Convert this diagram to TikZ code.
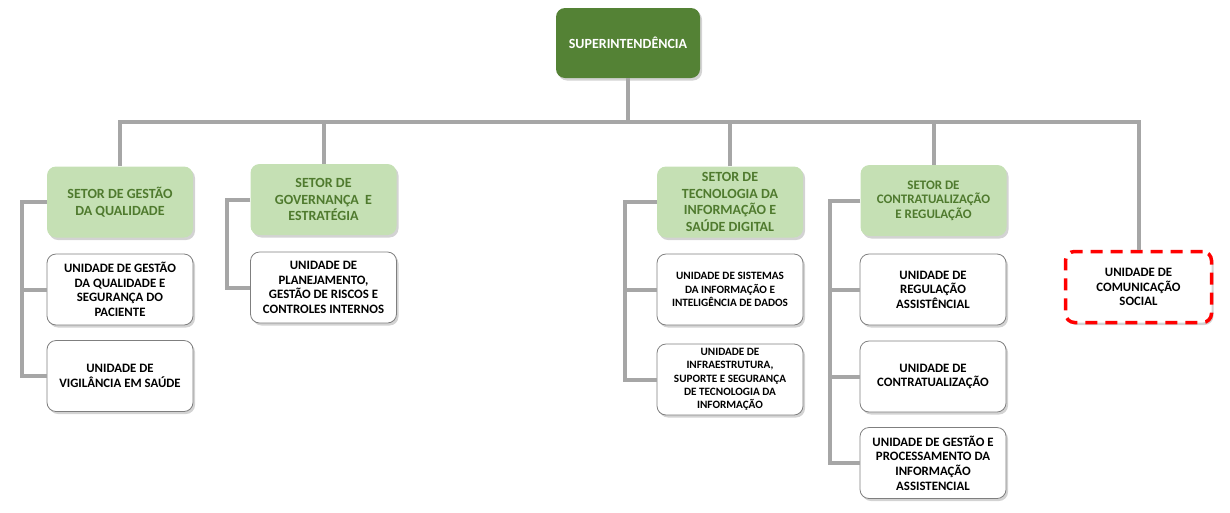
\documentclass[tikz,border=0pt]{standalone}
\usepackage{fontspec}
\setmainfont{Carlito}
\usetikzlibrary{shadows}

\definecolor{supgreen}{HTML}{548235}
\definecolor{setorfill}{HTML}{C5E0B4}
\definecolor{setortext}{HTML}{4F7A2E}
\definecolor{linkgray}{HTML}{A6A6A6}
\definecolor{unitborder}{HTML}{7F7F7F}

\tikzset{
	box/.style={rounded corners=9pt, minimum width=146pt, minimum height=71pt, align=center, inner sep=2pt,
		drop shadow={shadow xshift=2pt, shadow yshift=-2.5pt, opacity=0.35}},
	supbox/.style={box, minimum width=144pt, minimum height=70pt, fill=supgreen, text=white, font=\bfseries\fontsize{14}{16}\selectfont},
	setorbox/.style={box, fill=setorfill, text=setortext, font=\bfseries\fontsize{14}{16.5}\selectfont},
	unitbox/.style={box, fill=white, draw=unitborder, line width=0.8pt, font=\bfseries\fontsize{12.8}{14.6}\selectfont},
	smallunit/.style={unitbox, font=\bfseries\fontsize{11.2}{13.3}\selectfont},
	link/.style={draw=linkgray, line width=4pt},
}

\begin{document}
\begin{tikzpicture}[x=1pt, y=-1pt]
	\useasboundingbox (0,0) rectangle (1230,512);

	% --- top ---
	\node[supbox] (sup) at (628,43) {SUPERINTENDÊNCIA};

	% --- setores ---
	\node[setorbox] (gq) at (120,202)     {SETOR DE GESTÃO\\DA QUALIDADE};
	\node[setorbox] (ge) at (323.5,199.5) {SETOR DE\\GOVERNANÇA~~E\\ESTRATÉGIA};
	\node[setorbox] (ti) at (730,202)     {SETOR DE\\TECNOLOGIA DA\\INFORMAÇÃO E\\SAÚDE DIGITAL};
	\node[setorbox, font=\bfseries\fontsize{13}{14.5}\selectfont] (cr) at (933.5,200.5) {SETOR DE\\CONTRATUALIZAÇÃO\\E REGULAÇÃO};

	% --- unidades ---
	\node[unitbox] (uq1) at (120,289.5)   {UNIDADE DE GESTÃO\\DA QUALIDADE E\\SEGURANÇA DO\\PACIENTE};
	\node[unitbox] (uq2) at (120,376)     {UNIDADE DE\\VIGILÂNCIA EM SAÚDE};
	\node[unitbox] (ug1) at (323.5,287.5) {UNIDADE DE\\PLANEJAMENTO,\\GESTÃO DE RISCOS E\\CONTROLES INTERNOS};
	\node[smallunit] (ut1) at (730,289.5) {UNIDADE DE SISTEMAS\\DA INFORMAÇÃO E\\INTELIGÊNCIA DE DADOS};
	\node[smallunit] (ut2) at (730,379.5) {UNIDADE DE\\INFRAESTRUTURA,\\SUPORTE E SEGURANÇA\\DE TECNOLOGIA DA\\INFORMAÇÃO};
	\node[unitbox] (ur1) at (933,289.5)   {UNIDADE DE\\REGULAÇÃO\\ASSISTÊNCIAL};
	\node[unitbox] (ur2) at (933,376.5)   {UNIDADE DE\\CONTRATUALIZAÇÃO};
	\node[unitbox] (ur3) at (933,463)     {UNIDADE DE GESTÃO E\\PROCESSAMENTO DA\\INFORMAÇÃO\\ASSISTENCIAL};
	\node[unitbox, draw=red, line width=3.5pt, dash pattern=on 12pt off 8pt] (ucs) at (1138.5,287) {UNIDADE DE\\COMUNICAÇÃO\\SOCIAL};

	% --- bus ---
	\coordinate (bus) at (628,122);
	\draw[link] (sup) -- (bus);
	\foreach \n in {gq,ge,ti,cr,ucs} {
		\draw[link] (\n.north) |- (bus);
	}

	% --- side branches ---
	\foreach \s/\d/\u in {gq/25/uq2, ge/23/ug1, ti/32/ut2, cr/30/ur3} {
		\draw[link] (\s.west) -- ++(-\d,0) |- (\u.west);
	}
	\foreach \u/\d in {uq1/25, ut1/32, ur1/30, ur2/30} {
		\draw[link] (\u.west) -- ++(-\d,0);
	}
\end{tikzpicture}
\end{document}
